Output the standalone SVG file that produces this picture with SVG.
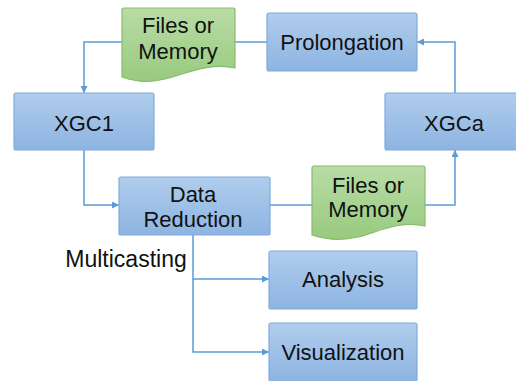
<svg xmlns="http://www.w3.org/2000/svg" width="516" height="381" viewBox="0 0 516 381">
<defs>
<linearGradient id="gb" x1="0" y1="0" x2="0" y2="1"><stop offset="0" stop-color="#b0cdec"/><stop offset="1" stop-color="#8db4e2"/></linearGradient>
<linearGradient id="gg" x1="0" y1="0" x2="0" y2="1"><stop offset="0" stop-color="#b9dca6"/><stop offset="1" stop-color="#98ca7f"/></linearGradient>
<marker id="ar" viewBox="0 0 10 10" refX="10" refY="5" markerWidth="7" markerHeight="7" markerUnits="userSpaceOnUse" orient="auto"><path d="M0,0 L10,5 L0,10 Z" fill="#5b9bd5"/></marker>
<style>
.box{fill:url(#gb);stroke:#80aadc;stroke-width:1.2}
.doc{fill:url(#gg);stroke:#86bd68;stroke-width:1.2}
.t{font-family:"Liberation Sans",Arial,sans-serif;font-size:22px;fill:#111;text-anchor:middle}
.c{fill:none;stroke:#5b9bd5;stroke-width:1.5}
</style>
</defs>
<g id="connectors">
<path class="c" d="M267,42 H235"/>
<path class="c" d="M122,42 H84 V93" marker-end="url(#ar)"/>
<path class="c" d="M84,150 V205 H119" marker-end="url(#ar)"/>
<path class="c" d="M270,205 H312"/>
<path class="c" d="M425,205 H455 V150" marker-end="url(#ar)"/>
<path class="c" d="M455,93 V42 H417" marker-end="url(#ar)"/>
<path class="c" d="M193,235 V279 H269" marker-end="url(#ar)"/>
<path class="c" d="M193,279 V352 H269" marker-end="url(#ar)"/>
</g>
<g id="files-top">
<path class="doc" d="M124,8 H233 Q235,8 235,10 V68 C210,62 185,74 165,79 C150,83 136,82 122,77 V10 Q122,8 124,8 Z"/>
<text class="t" x="178" y="33">Files or</text>
<text class="t" x="178" y="59">Memory</text>
</g>
<g id="prolongation">
<rect class="box" x="267" y="13" width="150" height="58" rx="2"/>
<text class="t" x="342" y="50">Prolongation</text>
</g>
<g id="xgc1">
<rect class="box" x="14" y="93" width="140" height="57" rx="2"/>
<text class="t" x="84" y="131">XGC1</text>
</g>
<g id="xgca">
<rect class="box" x="385" y="93" width="135" height="57" rx="2"/>
<text class="t" x="454" y="131">XGCa</text>
</g>
<g id="data-reduction">
<rect class="box" x="119" y="177" width="151" height="58" rx="2"/>
<text class="t" x="193" y="202">Data</text>
<text class="t" x="193" y="227">Reduction</text>
</g>
<g id="files-bottom">
<path class="doc" d="M314,166 H423 Q425,166 425,168 V226 C400,220 378,232 358,237 C342,241 327,240 312,235 V168 Q312,166 314,166 Z"/>
<text class="t" x="368" y="193">Files or</text>
<text class="t" x="368" y="217">Memory</text>
</g>
<g id="analysis">
<rect class="box" x="269" y="251" width="148" height="58" rx="2"/>
<text class="t" x="343" y="287">Analysis</text>
</g>
<g id="visualization">
<rect class="box" x="269" y="323" width="148" height="58" rx="2"/>
<text class="t" x="343" y="360">Visualization</text>
</g>
<text class="t" x="126" y="267" style="font-size:23px">Multicasting</text>
</svg>
